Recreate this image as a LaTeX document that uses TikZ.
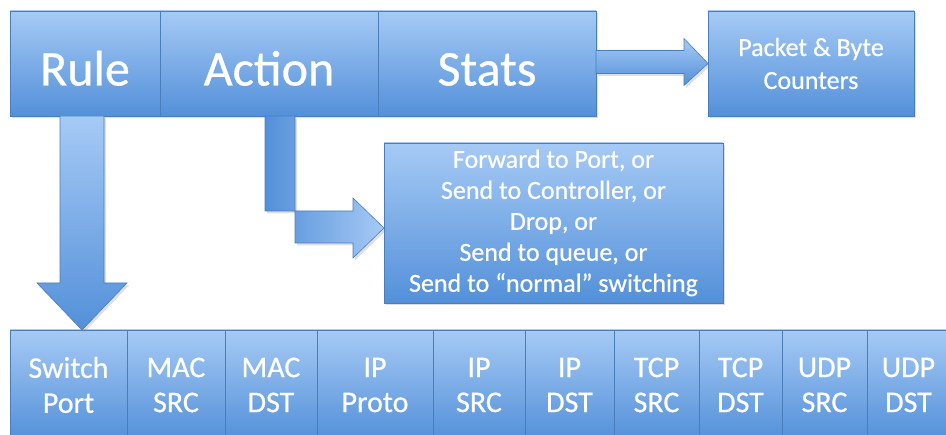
\documentclass[tikz,border=0pt]{standalone}
\usepackage{fontspec}
\setmainfont{Carlito}[FakeBold=0.6]
\usetikzlibrary{calc,shadows}
\definecolor{boxtop}{HTML}{A6CAF5}
\definecolor{boxbot}{HTML}{5390D9}
\definecolor{boxline}{HTML}{4A7EBB}
\tikzset{
  cell/.style={rectangle, anchor=north west, inner sep=0pt, outer sep=0pt,
    draw=boxline, line width=0.6pt, top color=boxtop, bottom color=boxbot,
    text=white, align=center,
    drop shadow={shadow xshift=2pt, shadow yshift=-2.5pt, opacity=0.25}},
  bigtext/.style={font=\fontsize{50}{56}\selectfont, text height=44pt, text depth=0pt},
  midtext/.style={font=\fontsize{26}{31}\selectfont},
  counttext/.style={font=\fontsize{26}{33}\selectfont},
  fieldtext/.style={font=\fontsize{30}{35}\selectfont},
  blockarrow/.style={draw=boxline, line width=0.6pt,
    drop shadow={shadow xshift=2pt, shadow yshift=-2.5pt, opacity=0.25}}
}
\begin{document}
\begin{tikzpicture}[x=1pt, y=-1pt]
\useasboundingbox (0,0) rectangle (946,435);

% header: rule / action / stats
\node[cell, bigtext, minimum width=150pt, minimum height=105pt] (rule) at (10,11) {Rule};
\node[cell, bigtext, minimum width=218pt, minimum height=105pt] (action) at (160,11) {Action};
\node[cell, bigtext, minimum width=218pt, minimum height=105pt] (stats) at (378,11) {Stats};

% counters and action list
\node[cell, counttext, minimum width=206pt, minimum height=105pt] (counters) at (708,11) {Packet \& Byte\\Counters};
\node[cell, midtext, minimum width=339pt, minimum height=160pt] (forward) at (384,143)
  {Forward to Port, or\\Send to Controller, or\\Drop, or\\Send to queue, or\\Send to “normal” switching};

% header fields
\node[cell, fieldtext, minimum width=117pt, minimum height=110pt] (sport) at (10,330) {Switch\\Port};
\node[cell, fieldtext, minimum width=98pt, minimum height=110pt] (macsrc) at (127,330) {MAC\\SRC};
\node[cell, fieldtext, minimum width=92pt, minimum height=110pt] (macdst) at (225,330) {MAC\\DST};
\node[cell, fieldtext, minimum width=116pt, minimum height=110pt] (ipproto) at (317,330) {IP\\Proto};
\node[cell, fieldtext, minimum width=92pt, minimum height=110pt] (ipsrc) at (433,330) {IP\\SRC};
\node[cell, fieldtext, minimum width=89pt, minimum height=110pt] (ipdst) at (525,330) {IP\\DST};
\node[cell, fieldtext, minimum width=85pt, minimum height=110pt] (tcpsrc) at (614,330) {TCP\\SRC};
\node[cell, fieldtext, minimum width=83pt, minimum height=110pt] (tcpdst) at (699,330) {TCP\\DST};
\node[cell, fieldtext, minimum width=85pt, minimum height=110pt] (udpsrc) at (782,330) {UDP\\SRC};
\node[cell, fieldtext, minimum width=83pt, minimum height=110pt] (udpdst) at (867,330) {UDP\\DST};

% rule -> switch port (down arrow)
\path let \p1=(rule.south), \p2=(sport.north) in
  coordinate (rA) at (\x1-25,\y1) coordinate (rB) at (\x1+19,\y1)
  coordinate (rC) at (\x1+19,\y2+47) coordinate (rD) at (\x1+42,\y2+47)
  coordinate (rE) at (\x1-3,\y2) coordinate (rF) at (\x1-48,\y2+47)
  coordinate (rG) at (\x1-25,\y2+47);
\shade[blockarrow, top color=boxtop, bottom color=boxbot]
  (rA) -- (rB) -- (rC) -- (rD) -- (rE) -- (rF) -- (rG) -- cycle;

% stats -> counters (right arrow)
\path let \p1=(stats.east), \p2=(counters.west) in
  coordinate (sA) at (\x1,\y2-10) coordinate (sB) at (\x2-24,\y2-10)
  coordinate (sC) at (\x2-24,\y2-22) coordinate (sD) at (\x2,\y2)
  coordinate (sE) at (\x2-24,\y2+25) coordinate (sF) at (\x2-24,\y2+13)
  coordinate (sG) at (\x1,\y2+13);
\shade[blockarrow, top color=boxtop, bottom color=boxbot]
  (sA) -- (sB) -- (sC) -- (sD) -- (sE) -- (sF) -- (sG) -- cycle;

% action -> forward list (bent arrow)
\path let \p1=(action.south), \p2=(forward.west) in
  coordinate (aA) at (265,\y1) coordinate (aB) at (295,\y1)
  coordinate (aC) at (295,\y2-20) coordinate (aD) at (\x2-31,\y2-20)
  coordinate (aE) at (\x2-31,\y2-35) coordinate (aF) at (\x2,\y2-5)
  coordinate (aG) at (\x2-31,\y2+25) coordinate (aH) at (\x2-31,\y2+12)
  coordinate (aI) at (265,\y2+12);
\shade[blockarrow, left color=boxbot, right color=boxtop]
  (aA) -- (aB) -- (aC) -- (aD) -- (aE) -- (aF) -- (aG) -- (aH) -- (aI) -- cycle;

\end{tikzpicture}
\end{document}
